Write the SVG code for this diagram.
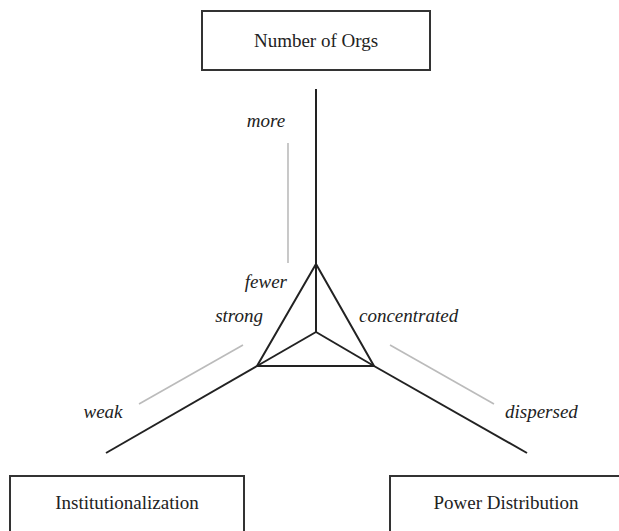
<svg xmlns="http://www.w3.org/2000/svg" width="619" height="531" viewBox="0 0 619 531">
<style>
.box{fill:#fff;stroke:#333;stroke-width:2}
.lbl{font-family:"Liberation Serif",serif;font-size:19px;fill:#222;text-anchor:middle}
.it{font-family:"Liberation Serif",serif;font-size:19px;font-style:italic;fill:#222}
.ax{stroke:#222;stroke-width:2;fill:none;stroke-linejoin:round}
.gr{stroke:#bbb;stroke-width:1.6}
</style>
<rect width="619" height="531" fill="#fff"/>
<g id="node-orgs"><rect class="box" x="202" y="11" width="228" height="59"/><text class="lbl" x="316" y="47">Number of Orgs</text></g>
<g id="node-inst"><rect class="box" x="10" y="476" width="234" height="70"/><text class="lbl" x="127" y="509">Institutionalization</text></g>
<g id="node-power"><rect class="box" x="390" y="476" width="240" height="70"/><text class="lbl" x="506" y="509">Power Distribution</text></g>
<g id="connectors">
<line class="ax" x1="316" y1="89" x2="316" y2="332"/>
<line class="ax" x1="316" y1="332" x2="257" y2="366"/>
<line class="ax" x1="316" y1="332" x2="374" y2="366"/>
<polygon class="ax" points="316,264 257,366 374,366"/>
<line class="ax" x1="257" y1="366" x2="106" y2="453"/>
<line class="ax" x1="374" y1="366" x2="527" y2="453"/>
<line class="gr" x1="288" y1="143" x2="288" y2="263"/>
<line class="gr" x1="243" y1="345" x2="139" y2="404"/>
<line class="gr" x1="390" y1="345" x2="494" y2="404"/>
</g>
<g id="labels">
<text class="it" x="266" y="127" text-anchor="middle">more</text>
<text class="it" x="287" y="288" text-anchor="end">fewer</text>
<text class="it" x="263" y="322" text-anchor="end">strong</text>
<text class="it" x="359" y="322">concentrated</text>
<text class="it" x="103" y="418" text-anchor="middle">weak</text>
<text class="it" x="505" y="418">dispersed</text>
</g>
</svg>
